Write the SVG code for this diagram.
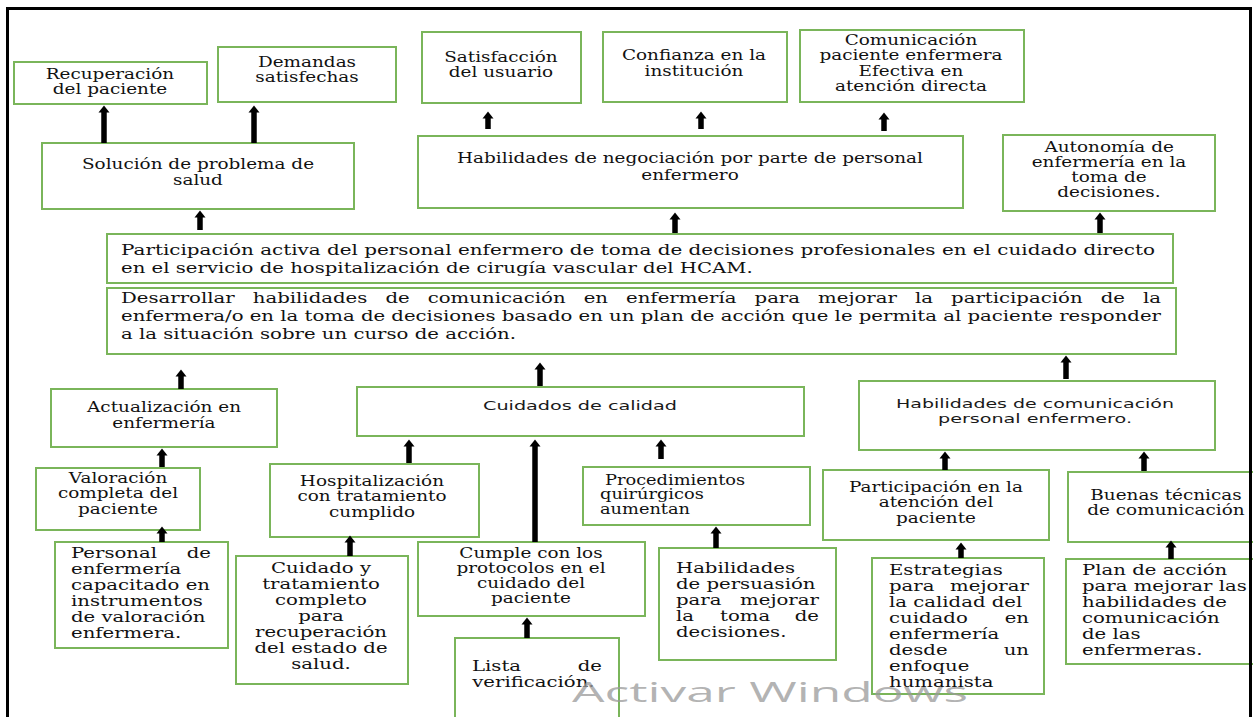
<svg xmlns="http://www.w3.org/2000/svg" width="1253" height="717" viewBox="0 0 1253 717">
<style>
.bx{fill:#fff;stroke:#7ab55a;stroke-width:2}
.t{font-family:"DejaVu Serif","Liberation Serif",serif;fill:#111}
.s{font-size:14.5px}
.b{font-size:15.5px}
.p{font-size:14px}
.c{text-anchor:middle;transform-box:fill-box;transform-origin:center;transform:scaleX(1.27)}
.l{transform-box:fill-box;transform-origin:left center;transform:scaleX(1.27)}
.r{text-anchor:end;transform-box:fill-box;transform-origin:right center;transform:scaleX(1.27)}
.sans{font-family:"DejaVu Sans","Liberation Sans",sans-serif;font-size:12.5px;fill:#1a1a1a;text-anchor:middle}
.ar{stroke:#000;stroke-width:5.5;fill:none;marker-end:url(#ah)}
</style>
<defs>
<marker id="ah" markerUnits="userSpaceOnUse" markerWidth="8" markerHeight="12" refX="0.5" refY="5.5" orient="auto" overflow="visible">
<path d="M0,0 L7,5.5 L0,11 Z" fill="#000"/>
</marker>
</defs>
<rect width="1253" height="717" fill="#fff"/>

<g id="recuperacion"><rect class="bx" x="14" y="62" width="193" height="42"/>
<text class="t s c" x="110" y="79">Recuperación</text><text class="t s c" x="110" y="94">del paciente</text></g>

<g id="demandas"><rect class="bx" x="218" y="47" width="178" height="55"/>
<text class="t s c" x="307" y="67">Demandas</text><text class="t s c" x="307" y="82">satisfechas</text></g>

<g id="satisfaccion"><rect class="bx" x="422" y="32" width="159" height="71"/>
<text class="t s c" x="501" y="62">Satisfacción</text><text class="t s c" x="501" y="77">del usuario</text></g>

<g id="confianza"><rect class="bx" x="603" y="32" width="184" height="70"/>
<text class="t s c" x="694" y="60">Confianza en la</text><text class="t s c" x="694" y="76">institución</text></g>

<g id="comunicacion"><rect class="bx" x="800" y="30" width="224" height="72"/>
<text class="t s c" x="911" y="45">Comunicación</text><text class="t s c" x="911" y="60">paciente enfermera</text>
<text class="t s c" x="911" y="76">Efectiva en</text><text class="t s c" x="911" y="91">atención directa</text></g>

<g id="solucion"><rect class="bx" x="42" y="143" width="312" height="66"/>
<text class="t s c" x="198" y="169">Solución de problema de</text><text class="t s c" x="198" y="185">salud</text></g>

<g id="negociacion"><rect class="bx" x="418" y="136" width="545" height="72"/>
<text class="t s c" x="690" y="163">Habilidades de negociación por parte de personal</text><text class="t s c" x="690" y="180">enfermero</text></g>

<g id="autonomia"><rect class="bx" x="1003" y="135" width="212" height="76"/>
<text class="t s c" x="1109" y="152">Autonomía de</text><text class="t s c" x="1109" y="167">enfermería en la</text>
<text class="t s c" x="1109" y="182">toma de</text><text class="t s c" x="1109" y="197">decisiones.</text></g>

<g id="participacion"><rect class="bx" x="107" y="234" width="1066" height="49"/>
<text class="t b" x="121" y="255" textLength="1034" lengthAdjust="spacingAndGlyphs">Participación activa del personal enfermero de toma de decisiones profesionales en el cuidado directo</text>
<text class="t b l" x="121" y="273">en el servicio de hospitalización de cirugía vascular del HCAM.</text></g>

<g id="desarrollar"><rect class="bx" x="107" y="288" width="1069" height="66"/>
<text class="t b" x="121" y="303" textLength="1040" lengthAdjust="spacingAndGlyphs" style="word-spacing:9.3px">Desarrollar habilidades de comunicación en enfermería para mejorar la participación de la</text>
<text class="t b" x="121" y="321" textLength="1040" lengthAdjust="spacingAndGlyphs">enfermera/o en la toma de decisiones basado en un plan de acción que le permita al paciente responder</text>
<text class="t b l" x="121" y="339">a la situación sobre un curso de acción.</text></g>

<g id="actualizacion"><rect class="bx" x="51" y="389" width="226" height="58"/>
<text class="t s c" x="164" y="412">Actualización en</text><text class="t s c" x="164" y="428">enfermería</text></g>

<g id="cuidados-calidad"><rect class="bx" x="357" y="387" width="447" height="49"/>
<text class="sans" x="580" y="410" textLength="194" lengthAdjust="spacingAndGlyphs">Cuidados de calidad</text></g>

<g id="habilidades-comunicacion"><rect class="bx" x="859" y="381" width="356" height="69"/>
<text class="sans" x="1035" y="408" textLength="278" lengthAdjust="spacingAndGlyphs">Habilidades de comunicación</text>
<text class="sans" x="1035" y="423" textLength="194" lengthAdjust="spacingAndGlyphs">personal enfermero.</text></g>

<g id="valoracion"><rect class="bx" x="36" y="468" width="164" height="62"/>
<text class="t s c" x="118" y="483">Valoración</text><text class="t s c" x="118" y="498">completa del</text><text class="t s c" x="118" y="514">paciente</text></g>

<g id="hospitalizacion"><rect class="bx" x="270" y="464" width="209" height="73"/>
<text class="t s c" x="372" y="486">Hospitalización</text><text class="t s c" x="372" y="501">con tratamiento</text><text class="t s c" x="372" y="517">cumplido</text></g>

<g id="procedimientos"><rect class="bx" x="583" y="467" width="227" height="58"/>
<text class="t p l" x="605" y="485">Procedimientos</text><text class="t p l" x="600" y="499.5">quirúrgicos</text><text class="t p l" x="600" y="514">aumentan</text></g>

<g id="participacion-atencion"><rect class="bx" x="823" y="470" width="226" height="70"/>
<text class="t s c" x="936" y="492">Participación en la</text><text class="t s c" x="936" y="507">atención del</text><text class="t s c" x="936" y="523">paciente</text></g>

<g id="buenas-tecnicas"><rect class="bx" x="1068" y="472" width="200" height="70"/>
<text class="t s c" x="1166" y="500">Buenas técnicas</text><text class="t s c" x="1166" y="515">de comunicación</text></g>

<g id="personal"><rect class="bx" x="55" y="542" width="173" height="106"/>
<text class="t b l" x="71" y="558">Personal</text><text class="t b r" x="211" y="558">de</text>
<text class="t b l" x="71" y="574">enfermería</text><text class="t b l" x="71" y="590">capacitado en</text>
<text class="t b l" x="71" y="606">instrumentos</text><text class="t b l" x="71" y="622">de valoración</text>
<text class="t b l" x="71" y="638">enfermera.</text></g>

<g id="cuidado-tratamiento"><rect class="bx" x="236" y="556" width="172" height="128"/>
<text class="t b c" x="321" y="573">Cuidado y</text><text class="t b c" x="321" y="589">tratamiento</text>
<text class="t b c" x="321" y="605">completo</text><text class="t b c" x="321" y="621">para</text>
<text class="t b c" x="321" y="637">recuperación</text><text class="t b c" x="321" y="653">del estado de</text>
<text class="t b c" x="321" y="669">salud.</text></g>

<g id="cumple"><rect class="bx" x="418" y="542" width="227" height="74"/>
<text class="t s c" x="531" y="558">Cumple con los</text><text class="t s c" x="531" y="573">protocolos en el</text>
<text class="t s c" x="531" y="588">cuidado del</text><text class="t s c" x="531" y="603">paciente</text></g>

<g id="lista"><rect class="bx" x="455" y="638" width="164" height="90"/>
<text class="t b l" x="472" y="671">Lista</text><text class="t b r" x="602" y="671">de</text>
<text class="t b l" x="472" y="687">verificación.</text></g>

<g id="persuasion"><rect class="bx" x="659" y="548" width="177" height="112"/>
<text class="t b l" x="676" y="573">Habilidades</text>
<text class="t b l" x="676" y="589">de persuasión</text>
<text class="t b l" x="676" y="605">para</text><text class="t b r" x="819" y="605">mejorar</text>
<text class="t b l" x="676" y="621">la</text><text class="t b l" x="720" y="621">toma</text><text class="t b r" x="819" y="621">de</text>
<text class="t b l" x="676" y="637">decisiones.</text></g>

<g id="estrategias"><rect class="bx" x="872" y="558" width="172" height="136"/>
<text class="t b l" x="889" y="575">Estrategias</text>
<text class="t b l" x="889" y="591">para</text><text class="t b r" x="1029" y="591">mejorar</text>
<text class="t b l" x="889" y="607">la calidad del</text>
<text class="t b l" x="889" y="623">cuidado</text><text class="t b r" x="1029" y="623">en</text>
<text class="t b l" x="889" y="639">enfermería</text>
<text class="t b l" x="889" y="655">desde</text><text class="t b r" x="1029" y="655">un</text>
<text class="t b l" x="889" y="671">enfoque</text>
<text class="t b l" x="889" y="687">humanista</text></g>

<g id="plan"><rect class="bx" x="1066" y="559" width="200" height="105"/>
<text class="t b l" x="1082" y="575">Plan de acción</text><text class="t b l" x="1082" y="591">para mejorar las</text>
<text class="t b l" x="1082" y="607">habilidades de</text><text class="t b l" x="1082" y="623">comunicación</text>
<text class="t b l" x="1082" y="639">de las</text><text class="t b l" x="1082" y="655">enfermeras.</text></g>

<g id="connectors">
<line class="ar" x1="104" y1="143" x2="104" y2="112"/>
<line class="ar" x1="254" y1="143" x2="254" y2="112"/>
<line class="ar" x1="488" y1="129" x2="488" y2="118"/>
<line class="ar" x1="701" y1="129" x2="701" y2="118"/>
<line class="ar" x1="884" y1="131" x2="884" y2="119"/>
<line class="ar" x1="200" y1="230" x2="200" y2="217"/>
<line class="ar" x1="675" y1="233" x2="675" y2="219"/>
<line class="ar" x1="1100" y1="233" x2="1100" y2="219"/>
<line class="ar" x1="181" y1="389" x2="181" y2="376"/>
<line class="ar" x1="540" y1="386" x2="540" y2="369"/>
<line class="ar" x1="1066" y1="379" x2="1066" y2="362"/>
<line class="ar" x1="162" y1="467" x2="162" y2="455"/>
<line class="ar" x1="409" y1="463" x2="409" y2="446"/>
<line class="ar" x1="535" y1="542" x2="535" y2="446"/>
<line class="ar" x1="661" y1="459" x2="661" y2="446"/>
<line class="ar" x1="945" y1="470" x2="945" y2="458"/>
<line class="ar" x1="1144" y1="471" x2="1144" y2="458"/>
<line class="ar" x1="162" y1="542" x2="162" y2="533"/>
<line class="ar" x1="350" y1="556" x2="350" y2="542"/>
<line class="ar" x1="716" y1="548" x2="716" y2="533"/>
<line class="ar" x1="527" y1="638" x2="527" y2="624"/>
<line class="ar" x1="961" y1="558" x2="961" y2="549"/>
<line class="ar" x1="1171" y1="559" x2="1171" y2="547"/>
</g>

<path d="M7.5,717 V8.5 H1250.5 V717" fill="none" stroke="#000" stroke-width="3"/>
<text x="572" y="702" textLength="396" lengthAdjust="spacingAndGlyphs" style="font-family:'Open Sans','DejaVu Sans',sans-serif;font-size:27px;fill:#9a9a9a;fill-opacity:0.75">Activar Windows</text>
</svg>
